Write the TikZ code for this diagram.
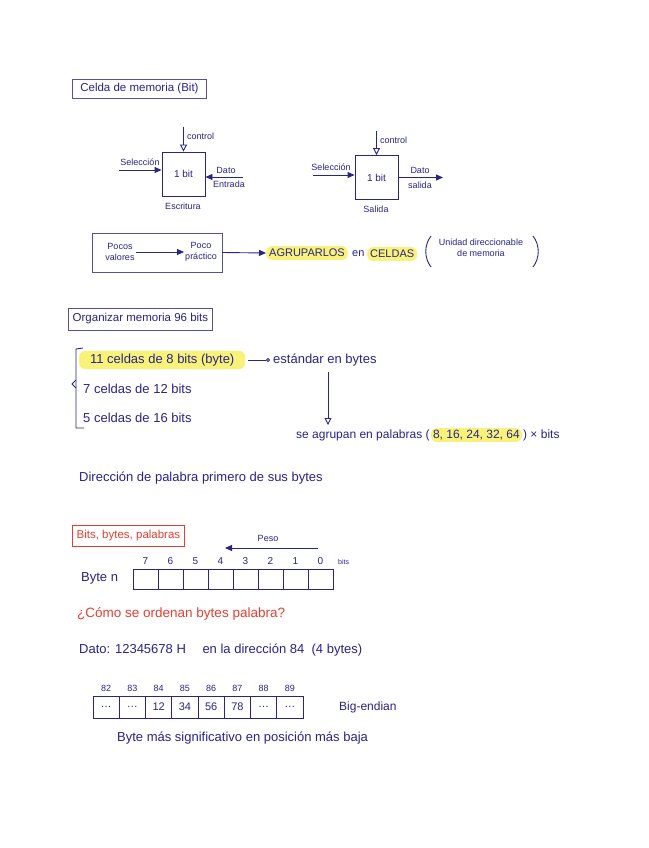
\documentclass[tikz,border=0pt]{standalone}
\usepackage{fontspec}
\setmainfont{Liberation Sans}
\usetikzlibrary{arrows.meta}
\definecolor{ink}{RGB}{40,36,140}
\definecolor{frame}{RGB}{88,78,168}
\definecolor{redink}{RGB}{232,62,50}
\definecolor{hlyellow}{RGB}{248,242,120}

\begin{document}
\begin{tikzpicture}[x=1pt, y=-1pt,
    every node/.style={text=ink, inner sep=1pt},
    note/.style={font=\fontsize{13}{15}\selectfont, anchor=west},
    small/.style={font=\fontsize{9}{10.5}\selectfont},
    titlebox/.style={draw=frame, line width=0.9pt, inner sep=3pt, anchor=west,
                     font=\fontsize{11.5}{13.5}\selectfont},
    cell/.style={draw=ink, line width=0.9pt, minimum width=43pt, minimum height=44pt,
                 font=\fontsize{10}{12}\selectfont},
    bitcell/.style={draw=ink, line width=0.9pt, minimum width=25pt, minimum height=20pt,
                    inner sep=0pt},
    memcell/.style={draw=ink, line width=0.9pt, minimum width=26.25pt, minimum height=22pt,
                    inner sep=0pt, font=\fontsize{11}{13}\selectfont},
    hl/.style={fill=hlyellow, rounded corners=6pt, inner sep=3pt},
    arrow/.style={-{Triangle[length=7pt,width=6pt]}, draw=ink, line width=0.9pt},
    oarrow/.style={-{Triangle[open,length=7pt,width=7pt]}, draw=ink, line width=0.9pt},
    carrow/.style={-{Circle[open,length=4pt]}, draw=ink, line width=0.9pt}
]
\fill[white] (0,0) rectangle (648,848);
\useasboundingbox (0,0) rectangle (648,848);

%--------
% CELDA DE MEMORIA
%--------
\node[titlebox, minimum width=134pt, minimum height=19pt] (tcelda) at (72,89) {Celda de memoria (Bit)};

% Escritura
\node[cell] (wbit) at (183.5,174) {1 bit};
\node[small, anchor=west] (wctl) at (186,136) {control};
\coordinate (wctltop) at (183.5,127);
\draw[oarrow] (wctltop) -- (wbit.north);
\node[small] (wsel) at (140,162) {Selección};
\coordinate (wselin) at (119,170);
\draw[arrow] (wselin) -- (wselin -| wbit.west);
\node[small] (wdato) at (226,170) {Dato};
\node[small] (wentr) at (229,184) {Entrada};
\coordinate (wdatin) at (243,177);
\draw[arrow] (wdatin) -- (wdatin -| wbit.east);
\node[small] (wlbl) at (183,206) {Escritura};

% Salida
\node[cell] (rbit) at (376.5,177.5) {1 bit};
\node[small, anchor=west] (rctl) at (379,140) {control};
\coordinate (rctltop) at (376.5,131);
\draw[oarrow] (rctltop) -- (rbit.north);
\node[small] (rsel) at (331,167) {Selección};
\coordinate (rselin) at (313,175);
\draw[arrow] (rselin) -- (rselin -| rbit.west);
\node[small] (rdato) at (420,170) {Dato};
\node[small] (rsal) at (420,185) {salida};
\coordinate (rdatout) at (443,177.5);
\draw[arrow] (rbit.east) -- (rdatout);
\node[small] (rlbl) at (376,209) {Salida};

% Pocos valores
\node[draw=frame, line width=0.9pt, minimum width=130pt, minimum height=39pt] (pbox) at (157,252.5) {};
\node[small, align=center] (pocos) at (120,252) {Pocos\\valores};
\node[small, align=center] (poco) at (201,252) {Poco\\práctico};
\draw[arrow] (pocos.east) -- (poco.west);
\node[note, hl, font=\fontsize{11}{13}\selectfont] (agrup) at (266,253) {AGRUPARLOS};
\draw[arrow] (pbox.east) -- (agrup.west);
\node[note, font=\fontsize{11}{13}\selectfont] (en1) at (351,254) {en};
\node[note, hl, font=\fontsize{11}{13}\selectfont] (celdas) at (367,254) {CELDAS};
\node[font=\fontsize{9}{11}\selectfont, align=center] (unidad) at (481,248) {Unidad direccionable\\de memoria};
\draw[ink, line width=0.9pt] (431,236) .. controls (424,245) and (424,258) .. (431,267);
\draw[ink, line width=0.9pt] (533,236) .. controls (540,245) and (540,258) .. (533,267);

%--------
% ORGANIZAR MEMORIA
%--------
\node[titlebox, minimum width=144pt, minimum height=22pt] (torg) at (68,319) {Organizar memoria 96 bits};

\draw[ink, line width=0.9pt] (83,348) -- (76,349) -- (76,428) -- (84,428);
\draw[ink, line width=0.9pt] (76,380) -- (72,384) -- (76,388);

\node[note, hl, minimum width=166pt] (c8) at (79,360) {11 celdas de 8 bits (byte)};
\node[note] (estd) at (272,360) {estándar en bytes};
\draw[carrow, shorten <=3pt, shorten >=2pt] (c8.east) -- (estd.west);
\node[note] (c12) at (82,389) {7 celdas de 12 bits};
\node[note] (c16) at (82,418) {5 celdas de 16 bits};

\coordinate (dwn) at (328,425);
\draw[oarrow, shorten <=5pt] (estd.south -| dwn) -- (dwn);

\node[note, font=\fontsize{12}{14}\selectfont] (pal1) at (295,435) {se agrupan en palabras (};
\node[note, hl, inner sep=2pt, font=\fontsize{12}{14}\selectfont] (pal2) at (pal1.east) {8, 16, 24, 32, 64};
\node[note, font=\fontsize{12}{14}\selectfont] (pal3) at (pal2.east) {) × bits};

\node[note] (dir) at (78,478) {Dirección de palabra primero de sus bytes};

%--------
% BITS, BYTES, PALABRAS
%--------
\node[titlebox, draw=redink, text=redink, minimum width=112pt, minimum height=21pt] (tbits) at (72,535.5) {Bits, bytes, palabras};

\node[small] (peso) at (268,538) {Peso};
\coordinate (pesoR) at (318,548);
\coordinate (pesoL) at (225,548);
\draw[arrow] (pesoR) -- (pesoL);

\node[note] (byten) at (80,578) {Byte n};
\foreach \i/\d in {0/7,1/6,2/5,3/4,4/3,5/2,6/1,7/0} {
    \node[bitcell] (b\i) at (145.5+25*\i,579) {};
    \node[font=\fontsize{10}{12}\selectfont, anchor=south] (n\i) at ([yshift=3pt]b\i.north) {\d};
}
\node[font=\fontsize{7}{8}\selectfont, anchor=west] (nbits) at (337,562) {bits};

%--------
% ORDEN DE LOS BYTES
%--------
\node[note, text=redink, font=\fontsize{13.5}{15}\selectfont] (preg) at (76,614) {¿Cómo se ordenan bytes palabra?};
\node[note] (dato) at (78,650) {Dato: 12345678 H \quad en la dirección 84 \ (4 bytes)};

\foreach \i/\a/\v in {0/82/\dots,1/83/\dots,2/84/12,3/85/34,4/86/56,5/87/78,6/88/\dots,7/89/\dots} {
    \node[memcell] (m\i) at (106.125+26.25*\i,707) {\v};
    \node[font=\fontsize{9}{11}\selectfont, anchor=south] (a\i) at ([yshift=3pt]m\i.north) {\a};
}
\node[note, font=\fontsize{12}{14}\selectfont] (bige) at (338,707) {Big-endian};
\node[note] (msb) at (116,738) {Byte más significativo en posición más baja};

\end{tikzpicture}
\end{document}
